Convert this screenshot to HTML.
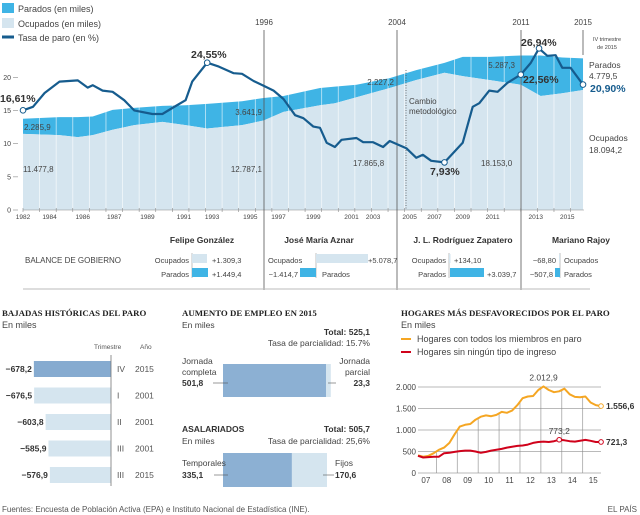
<!DOCTYPE html>
<html><head><meta charset="utf-8">
<style>
html,body{margin:0;padding:0;background:#fff;}
svg{display:block;font-family:"Liberation Sans",sans-serif;}
.t{fill:#444;font-size:9px;}
.s{fill:#555;font-size:8px;}
.b{font-weight:bold;}
.serif{font-family:"Liberation Serif",serif;font-weight:bold;fill:#222;font-size:8.8px;}
</style></head>
<body>
<svg id="svg" width="640" height="515" viewBox="0 0 640 515" xmlns="http://www.w3.org/2000/svg">
<g id="main"></g>
<g id="balance"></g>
<g id="bajadas"></g>
<g id="empleo"></g>
<g id="hogares"></g>
<text x="2" y="512" class="s">Fuentes: Encuesta de Población Activa (EPA) e Instituto Nacional de Estadística (INE).</text>
<text x="637" y="512" class="s" text-anchor="end">EL PAÍS</text>
</svg>
<script>
// ===== Main chart data =====
const stackYears = [1982.0,1984.2,1985.3,1986.2,1987.4,1988.7,1990.4,1991.8,1993.1,1995.2,1996.5,1997.7,1999.9,2000.8,2002.1,2004.1,2005.7,2007.4,2008.5,2010.1,2012.0,2013.2,2014.5,2015.75];
const ocupados = [11478,11300,11000,11300,12100,12800,13300,12800,12300,12800,13500,14800,15800,16100,17000,18400,19600,20700,20200,19600,18900,17200,17600,18094];
const parados = [2286,2700,3000,2800,3000,2600,2400,3000,3700,3600,3400,2400,2600,2500,1900,1500,1500,1500,2900,3500,4400,6100,5400,4780];
const tasaYears = [1982.0,1982.6,1983.3,1984.2,1985.3,1985.9,1986.2,1986.8,1987.4,1988.1,1988.7,1989.8,1990.4,1991.0,1991.8,1992.2,1993.1,1993.8,1994.7,1995.2,1995.9,1996.5,1997.1,1997.7,1998.4,1998.9,1999.5,1999.9,2000.3,2000.8,2001.2,2002.1,2002.5,2003.1,2003.7,2004.1,2005.1,2005.7,2006.1,2006.6,2007.4,2008.5,2009.1,2009.5,2010.1,2010.6,2011.2,2012.0,2012.6,2013.1,2013.6,2014.1,2014.5,2015.0,2015.75];
const tasa = [16.61,17.2,19.5,21.4,21.6,20.4,20.8,19.9,19.7,18.3,16.6,16.0,16.0,17.0,18.3,21.4,24.55,23.9,22.8,22.7,21.5,20.7,19.9,18.5,15.8,15.3,13.9,13.7,11.2,10.5,11.7,12.0,11.3,11.3,10.5,11.5,10.3,8.7,9.2,8.2,7.93,11.2,17.2,17.8,19.9,19.7,21.2,22.56,24.5,26.94,25.7,25.8,23.7,23.7,20.90];
const yTicks = [0,5,10,15,20];
const xTickLabels = ['1982','1984','1986','1987','1989','1991','1993','1995','1997','1999','2001','2003','2005','2007','2009','2011','2013','2015'];
const xTickYears = [1982,1983.6,1985.6,1987.5,1989.5,1991.7,1993.4,1995.7,1997.4,1999.5,2001.8,2003.1,2005.3,2006.8,2008.5,2010.3,2012.9,2014.8];

// ===== Hogares data =====
const hogQuarters = 36;
const hogTodos = [410,380,400,460,540,590,700,900,1080,1120,1140,1240,1310,1340,1320,1350,1420,1400,1450,1580,1740,1780,1790,1930,2012.9,1930,1880,1900,1960,1830,1770,1760,1780,1640,1580,1556.6];
const hogSin = [400,360,370,380,380,460,470,490,510,520,520,500,470,490,520,540,560,590,610,630,640,660,700,720,730,720,740,773.2,760,740,730,750,770,750,720,721.3];
const hogYTicks = [0,500,1000,1500,2000];
const hogYLabels = ['0','500','1.000','1.500','2.000'];
const hogXLabels = ['07','08','09','10','11','12','13','14','15'];

// ===== Bajadas data =====
const bajValues = [678.2,676.5,603.8,585.9,576.9];
const bajLabels = ['−678,2','−676,5','−603,8','−585,9','−576,9'];
const bajTrim = ['IV','I','II','III','III'];
const bajYear = ['2015','2001','2001','2001','2015'];

// ===== Empleo data =====
const empleoParts = [501.8,23.3];
const asalParts = [335.1,170.6];

const NS='http://www.w3.org/2000/svg';
function mk(parent,tag,attrs,text){const e=document.createElementNS(NS,tag);for(const k in attrs)e.setAttribute(k,attrs[k]);if(text!==undefined)e.textContent=text;parent.appendChild(e);return e;}

// ---------- MAIN CHART ----------
(function(){
const g=document.getElementById('main');
const X=y=>23+(y-1982)*16.593;
const YS=v=>210-v/1000*6.63;
const YT=v=>210-v*6.0;
const YA=v=>210-v*6.63;
let e;
e=mk(g,'rect',{x:2,y:3,width:12,height:10,fill:'#3fb4e5'});


e=mk(g,'text',{x:18,y:12,class:'t'},'Parados (en miles)');


e=mk(g,'rect',{x:2,y:18,width:12,height:10,fill:'#d5e5ef'});


e=mk(g,'text',{x:18,y:27,class:'t'},'Ocupados (en miles)');


e=mk(g,'line',{x1:2,x2:14,y1:37,y2:37,stroke:'#165c8e','stroke-width':3});


e=mk(g,'text',{x:18,y:41,class:'t'},'Tasa de paro (en %)');


let top='';
stackYears.forEach((yr,i)=>{top+=(i?'L':'M')+X(yr)+','+YS(ocupados[i]+parados[i]);});
let midPts=stackYears.map((yr,i)=>X(yr)+','+YS(ocupados[i]));
e=mk(g,'path',{d:top+'L'+midPts.slice().reverse().join('L')+'Z',fill:'#3fb4e5'});


e=mk(g,'path',{d:'M'+midPts.join('L')+'L'+X(stackYears[stackYears.length-1])+','+YS(0)+'L'+X(stackYears[0])+','+YS(0)+'Z',fill:'#d5e5ef'});


for(let yr=1983;yr<=2015;yr++){
  e=mk(g,'line',{x1:X(yr),x2:X(yr),y1:50,y2:210,stroke:'#fff','stroke-width':0.8,opacity:0.7});
  
  
}
e=mk(g,'line',{x1:23,x2:584,y1:210,y2:210,stroke:'#888','stroke-width':0.6});


for(let yr=1982;yr<=2015;yr++){
  e=mk(g,'line',{x1:X(yr),x2:X(yr),y1:208,y2:212,stroke:'#888','stroke-width':0.6});
  
  
}
xTickLabels.forEach((l,i)=>{
  e=mk(g,'text',{x:X(xTickYears[i]),y:219,'font-size':6.5,fill:'#444','text-anchor':'middle'},l);
  
  
});
yTicks.forEach(v=>{
  e=mk(g,'text',{x:11,y:YA(v)+2.5,'font-size':7,fill:'#444','text-anchor':'end'},String(v));
  
  
  e=mk(g,'line',{x1:13,x2:18,y1:YA(v),y2:YA(v),stroke:'#888','stroke-width':0.6});
  
  
});
[[264,'1996',290],[397,'2004',290],[521,'2011',290],[583,'2015',55]].forEach(p=>{
  e=mk(g,'line',{x1:p[0],x2:p[0],y1:30,y2:p[2],stroke:'#555','stroke-width':0.8});
  
  
  e=mk(g,'text',{x:p[0],y:25,'font-size':8,fill:'#444','text-anchor':'middle'},p[1]);
  
  
});
e=mk(g,'line',{x1:406,x2:406,y1:70,y2:210,stroke:'#444','stroke-width':0.7,'stroke-dasharray':'1,1.5'});


e=mk(g,'text',{x:409,y:104,'font-size':8,fill:'#444'},'Cambio');


e=mk(g,'text',{x:409,y:114,'font-size':8,fill:'#444'},'metodológico');


let d='';tasaYears.forEach((yr,i)=>{d+=(i?'L':'M')+X(yr).toFixed(1)+','+YT(tasa[i]).toFixed(1);});
e=mk(g,'path',{d:d,fill:'none',stroke:'#165c8e','stroke-width':2.2,'stroke-linejoin':'round'});


[0,16,40,47,49,tasa.length-1].forEach(i=>{
  e=mk(g,'circle',{cx:X(tasaYears[i]),cy:YT(tasa[i]),r:2.8,fill:'#fff',stroke:'#165c8e','stroke-width':1});
  
  
});
const lab=(x,y,t,opt)=>{const a=Object.assign({x:x,y:y,'font-size':8,fill:'#444'},opt||{});const el=mk(g,'text',a,t);return el;};
lab(0,102,'16,61%',{'font-size':10.5,'font-weight':'bold',fill:'#333'});
lab(191,58,'24,55%',{'font-size':10.5,'font-weight':'bold',fill:'#333'});
lab(430,175,'7,93%',{'font-size':10.5,'font-weight':'bold',fill:'#333'});
lab(521,46,'26,94%',{'font-size':10.5,'font-weight':'bold',fill:'#333'});
lab(523,83,'22,56%',{'font-size':10.5,'font-weight':'bold',fill:'#333'});
lab(590,92,'20,90%',{'font-size':10.5,'font-weight':'bold',fill:'#165c8e'});
lab(589,68,'Parados',{'font-size':8.5});
lab(589,79,'4.779,5',{'font-size':8.5});
lab(589,141,'Ocupados',{'font-size':8.5});
lab(589,153,'18.094,2',{'font-size':8.5});
lab(607,41,'IV trimestre',{'font-size':5.5,'text-anchor':'middle'});
lab(607,49,'de 2015',{'font-size':5.5,'text-anchor':'middle'});
lab(24,130,'2.285,9');lab(23,172,'11.477,8');
lab(262,115,'3.641,9',{'text-anchor':'end'});lab(262,172,'12.787,1',{'text-anchor':'end'});
lab(394,85,'2.227,2',{'text-anchor':'end'});lab(353,166,'17.865,8');
lab(515,68,'5.287,3',{'text-anchor':'end'});lab(481,166,'18.153,0');
})();

// ---------- BALANCE ----------
(function(){
const g=document.getElementById('balance');
let e;
const T=(x,y,t,o)=>{const el=mk(g,'text',Object.assign({x:x,y:y,'font-size':7.5,fill:'#444'},o||{}),t);return el;};
T(25,263,'BALANCE DE GOBIERNO',{'font-size':8});
[[202,'Felipe González'],[319,'José María Aznar'],[463,'J. L. Rodríguez Zapatero'],[581,'Mariano Rajoy']].forEach(p=>{
  const el=mk(g,'text',{x:p[0],y:243,'font-size':8.5,'font-weight':'bold',fill:'#333','text-anchor':'middle'},p[1]);
  
  
});
const bar=(x,w,y,c,n)=>{const el=mk(g,'rect',{x:x,y:y,width:w,height:9,fill:c});};
const ax=(x)=>{const el=mk(g,'line',{x1:x,x2:x,y1:253,y2:278,stroke:'#999','stroke-width':0.6});};
ax(192);T(189,263,'Ocupados',{'text-anchor':'end'});bar(192,15,254,'#d5e5ef','gonzalez-ocupados-bar');T(212,263,'+1.309,3');
T(189,277,'Parados',{'text-anchor':'end'});bar(192,16,268,'#3fb4e5','gonzalez-parados-bar');T(212,277,'+1.449,4');
ax(316);T(268,263,'Ocupados');bar(316,52,254,'#d5e5ef','aznar-ocupados-bar');T(368,263,'+5.078,7');
T(298,277,'−1.414,7',{'text-anchor':'end'});bar(300,16,268,'#3fb4e5','aznar-parados-bar');T(322,277,'Parados');
ax(449);T(446,263,'Ocupados',{'text-anchor':'end'});bar(449,1.5,254,'#d5e5ef','zapatero-ocupados-bar');T(454,263,'+134,10');
T(446,277,'Parados',{'text-anchor':'end'});bar(450,34,268,'#3fb4e5','zapatero-parados-bar');T(487,277,'+3.039,7');
ax(560);T(556,263,'−68,80',{'text-anchor':'end'});bar(559,1,254,'#d5e5ef','rajoy-ocupados-bar');T(564,263,'Ocupados');
T(553,277,'−507,8',{'text-anchor':'end'});bar(555,5,268,'#3fb4e5','rajoy-parados-bar');T(564,277,'Parados');
e=mk(g,'line',{x1:23,x2:590,y1:289,y2:289,stroke:'#bbb','stroke-width':1});


})();

// ---------- BAJADAS ----------
(function(){
const g=document.getElementById('bajadas');
let e;
e=mk(g,'text',{x:2,y:316,class:'serif'},'BAJADAS HISTÓRICAS DEL PARO');


e=mk(g,'text',{x:2,y:328,class:'t','font-size':8.5},'En miles');


e=mk(g,'text',{x:94,y:349,'font-size':6.5,fill:'#555'},'Trimestre');


e=mk(g,'text',{x:140,y:349,'font-size':6.5,fill:'#555'},'Año');


const L=v=>(v-190)*0.158;
bajValues.forEach((v,i)=>{
  const y=361+i*26.5;
  const r=mk(g,'rect',{x:111-L(v),y:y,width:L(v),height:16,fill:i===0?'#86abd0':'#d5e5ef'});
  
  
  const t=mk(g,'text',{x:111-L(v)-2,y:y+11,'font-size':8.5,'font-weight':'bold',fill:'#333','text-anchor':'end'},bajLabels[i]);
  
  
  const q=mk(g,'text',{x:117,y:y+11,'font-size':8.5,fill:'#555'},bajTrim[i]);
  
  
  const a=mk(g,'text',{x:135,y:y+11,'font-size':8.5,fill:'#555'},bajYear[i]);
  
  
});
e=mk(g,'line',{x1:111,x2:111,y1:355,y2:486,stroke:'#777','stroke-width':0.8});


})();

// ---------- EMPLEO ----------
(function(){
const g=document.getElementById('empleo');
let e;
const T=(x,y,t,o,n)=>{const el=mk(g,'text',Object.assign({x:x,y:y,'font-size':8.5,fill:'#444'},o||{}),t);return el;};
T(182,316,'AUMENTO DE EMPLEO EN 2015',{class:'serif'},'empleo-title');
T(182,328,'En miles',{},'empleo-subtitle');
T(370,335,'Total: 525,1',{'text-anchor':'end','font-weight':'bold',fill:'#333'},'empleo-total');
T(370,346,'Tasa de parcialidad: 15.7%',{'text-anchor':'end'});
const sc=103/501.8;
e=mk(g,'rect',{x:223,y:364,width:empleoParts[0]*sc,height:33,fill:'#8cb0d3'});


e=mk(g,'rect',{x:223+empleoParts[0]*sc,y:364,width:empleoParts[1]*sc,height:33,fill:'#d5e5ef'});


T(182,364,'Jornada');T(182,375,'completa');T(182,386,'501,8',{'font-weight':'bold',fill:'#333'});
T(370,364,'Jornada',{'text-anchor':'end'});T(370,375,'parcial',{'text-anchor':'end'});T(370,386,'23,3',{'text-anchor':'end','font-weight':'bold',fill:'#333'});
e=mk(g,'line',{x1:213,x2:228,y1:383,y2:383,stroke:'#555','stroke-width':0.6});
e=mk(g,'line',{x1:328,x2:336,y1:383,y2:383,stroke:'#555','stroke-width':0.6});
T(182,432,'ASALARIADOS',{'font-weight':'bold',fill:'#333'},'asalariados-title');
T(370,432,'Total: 505,7',{'text-anchor':'end','font-weight':'bold',fill:'#333'},'asalariados-total');
T(182,444,'En miles');
T(370,444,'Tasa de parcialidad: 25,6%',{'text-anchor':'end'});
const sc2=104/505.7;
e=mk(g,'rect',{x:223,y:453,width:asalParts[0]*sc2,height:34,fill:'#8cb0d3'});


e=mk(g,'rect',{x:223+asalParts[0]*sc2,y:453,width:asalParts[1]*sc2,height:34,fill:'#d5e5ef'});


T(182,466,'Temporales');T(182,478,'335,1',{'font-weight':'bold',fill:'#333'});
T(335,466,'Fijos');T(335,478,'170,6',{'font-weight':'bold',fill:'#333'});
e=mk(g,'line',{x1:214,x2:228,y1:475,y2:475,stroke:'#555','stroke-width':0.6});
e=mk(g,'line',{x1:323,x2:334,y1:475,y2:475,stroke:'#555','stroke-width':0.6});
})();

// ---------- HOGARES ----------
(function(){
const g=document.getElementById('hogares');
let e;
const X=i=>418+i*5.23;
const Y=v=>473-v*0.0430;
e=mk(g,'text',{x:401,y:316,class:'serif'},'HOGARES MÁS DESFAVORECIDOS POR EL PARO');


e=mk(g,'text',{x:401,y:328,class:'t','font-size':8.5},'En miles');


e=mk(g,'line',{x1:401,x2:411,y1:339,y2:339,stroke:'#f5a623','stroke-width':2});


e=mk(g,'text',{x:417,y:342,class:'t','font-size':8.5},'Hogares con todos los miembros en paro');


e=mk(g,'line',{x1:401,x2:411,y1:352,y2:352,stroke:'#d0021b','stroke-width':2});


e=mk(g,'text',{x:417,y:355,class:'t','font-size':8.5},'Hogares sin ningún tipo de ingreso');


hogYTicks.forEach((v,i)=>{
  const l=mk(g,'line',{x1:418,x2:601,y1:Y(v),y2:Y(v),stroke:'#777','stroke-width':0.6});
  
  
  const t=mk(g,'text',{x:416,y:Y(v)+3,'font-size':8,fill:'#444','text-anchor':'end'},hogYLabels[i]);
  
  
});
for(let k=1;k<9;k++){
  const i=k*4-0.5;
  const v=(hogTodos[k*4-1]+hogTodos[k*4])/2;
  const l=mk(g,'line',{x1:X(i),x2:X(i),y1:Y(0),y2:Y(v),stroke:'#888','stroke-width':0.6});
  
  
}
hogXLabels.forEach((l,k)=>{
  const t=mk(g,'text',{x:X(k*4+1.5),y:483,'font-size':8,fill:'#444','text-anchor':'middle'},l);
  
  
});
const path=(arr,c,n)=>{let d='';arr.forEach((v,i)=>{d+=(i?'L':'M')+X(i).toFixed(1)+','+Y(v).toFixed(1);});const p=mk(g,'path',{d:d,fill:'none',stroke:c,'stroke-width':2,'stroke-linejoin':'round'});};
path(hogTodos,'#f5a623','todos-paro-line');
path(hogSin,'#d0021b','sin-ingreso-line');
const n=hogQuarters-1;
e=mk(g,'circle',{cx:X(n),cy:Y(hogTodos[n]),r:2.3,fill:'#fff',stroke:'#f5a623','stroke-width':1});
e=mk(g,'circle',{cx:X(n),cy:Y(hogSin[n]),r:2.3,fill:'#fff',stroke:'#d0021b','stroke-width':1});
e=mk(g,'circle',{cx:X(27),cy:Y(hogSin[27]),r:2.3,fill:'#fff',stroke:'#d0021b','stroke-width':1});
e=mk(g,'text',{x:X(24),y:Y(hogTodos[24])-6,'font-size':8.5,fill:'#444','text-anchor':'middle'},'2.012,9');
e=mk(g,'text',{x:X(27),y:Y(hogSin[27])-6,'font-size':8.5,fill:'#444','text-anchor':'middle'},'773,2');
e=mk(g,'text',{x:606,y:Y(hogTodos[n])+3,'font-size':8.5,'font-weight':'bold',fill:'#333'},'1.556,6');
e=mk(g,'text',{x:606,y:Y(hogSin[n])+3,'font-size':8.5,'font-weight':'bold',fill:'#333'},'721,3');
})();
</script>
</body></html>
